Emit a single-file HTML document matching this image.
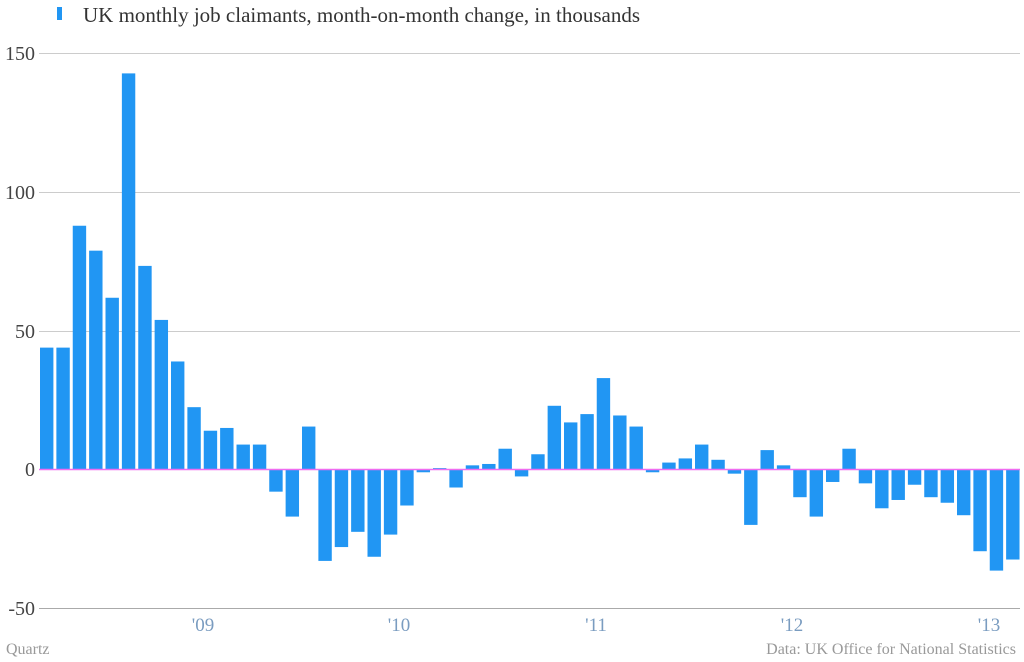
<!DOCTYPE html>
<html><head><style>body{margin:0;background:#fff}svg{display:block;font-family:"Liberation Serif",serif}</style></head>
<body>
<svg width="1024" height="662" viewBox="0 0 1024 662">
<rect x="57" y="7" width="5" height="13" fill="#2196f3"/>
<text x="83" y="22" font-size="21" fill="#333">UK monthly job claimants, month-on-month change, in thousands</text>
<g stroke="#cccccc" stroke-width="1">
<line x1="39" y1="53.5" x2="1020" y2="53.5"/>
<line x1="39" y1="192.5" x2="1020" y2="192.5"/>
<line x1="39" y1="331.5" x2="1020" y2="331.5"/>
<line x1="39" y1="608.5" x2="1020" y2="608.5" stroke="#aaa"/>
</g>
<g font-size="20" fill="#444" text-anchor="end">
<text x="35" y="60">150</text><text x="35" y="199">100</text><text x="35" y="338">50</text><text x="35" y="476">0</text><text x="35" y="615">-50</text>
</g>
<g font-size="19" fill="#7a9cc0" text-anchor="middle">
<text x="203" y="631">'09</text><text x="399" y="631">'10</text><text x="596" y="631">'11</text><text x="792" y="631">'12</text><text x="989" y="631">'13</text>
</g>
<text x="6" y="654" font-size="16" fill="#999">Quartz</text>
<text x="1016" y="654" font-size="16" fill="#999" text-anchor="end">Data: UK Office for National Statistics</text>
<g fill="#2196f3">
<rect x="40" y="347.62" width="13.4" height="121.88"/>
<rect x="56.375" y="347.62" width="13.4" height="121.88"/>
<rect x="72.75" y="225.74" width="13.4" height="243.76"/>
<rect x="89.125" y="250.67" width="13.4" height="218.83"/>
<rect x="105.5" y="297.76" width="13.4" height="171.74"/>
<rect x="121.875" y="73.39" width="13.4" height="396.11"/>
<rect x="138.25" y="265.9" width="13.4" height="203.6"/>
<rect x="154.625" y="319.92" width="13.4" height="149.58"/>
<rect x="171" y="361.47" width="13.4" height="108.03"/>
<rect x="187.375" y="407.17" width="13.4" height="62.33"/>
<rect x="203.75" y="430.72" width="13.4" height="38.78"/>
<rect x="220.125" y="427.95" width="13.4" height="41.55"/>
<rect x="236.5" y="444.57" width="13.4" height="24.93"/>
<rect x="252.875" y="444.57" width="13.4" height="24.93"/>
<rect x="269.25" y="469.5" width="13.4" height="22.16"/>
<rect x="285.625" y="469.5" width="13.4" height="47.09"/>
<rect x="302" y="426.56" width="13.4" height="42.94"/>
<rect x="318.375" y="469.5" width="13.4" height="91.41"/>
<rect x="334.75" y="469.5" width="13.4" height="77.56"/>
<rect x="351.125" y="469.5" width="13.4" height="62.33"/>
<rect x="367.5" y="469.5" width="13.4" height="87.26"/>
<rect x="383.875" y="469.5" width="13.4" height="65.1"/>
<rect x="400.25" y="469.5" width="13.4" height="36.01"/>
<rect x="416.625" y="469.5" width="13.4" height="2.77"/>
<rect x="433" y="468.11" width="13.4" height="1.39"/>
<rect x="449.375" y="469.5" width="13.4" height="18.01"/>
<rect x="465.75" y="465.34" width="13.4" height="4.16"/>
<rect x="482.125" y="463.96" width="13.4" height="5.54"/>
<rect x="498.5" y="448.72" width="13.4" height="20.78"/>
<rect x="514.875" y="469.5" width="13.4" height="6.93"/>
<rect x="531.25" y="454.26" width="13.4" height="15.24"/>
<rect x="547.625" y="405.79" width="13.4" height="63.71"/>
<rect x="564" y="422.41" width="13.4" height="47.09"/>
<rect x="580.375" y="414.1" width="13.4" height="55.4"/>
<rect x="596.75" y="378.09" width="13.4" height="91.41"/>
<rect x="613.125" y="415.48" width="13.4" height="54.02"/>
<rect x="629.5" y="426.56" width="13.4" height="42.94"/>
<rect x="645.875" y="469.5" width="13.4" height="2.77"/>
<rect x="662.25" y="462.57" width="13.4" height="6.93"/>
<rect x="678.625" y="458.42" width="13.4" height="11.08"/>
<rect x="695" y="444.57" width="13.4" height="24.93"/>
<rect x="711.375" y="459.8" width="13.4" height="9.7"/>
<rect x="727.75" y="469.5" width="13.4" height="4.16"/>
<rect x="744.125" y="469.5" width="13.4" height="55.4"/>
<rect x="760.5" y="450.11" width="13.4" height="19.39"/>
<rect x="776.875" y="465.34" width="13.4" height="4.16"/>
<rect x="793.25" y="469.5" width="13.4" height="27.7"/>
<rect x="809.625" y="469.5" width="13.4" height="47.09"/>
<rect x="826" y="469.5" width="13.4" height="12.47"/>
<rect x="842.375" y="448.72" width="13.4" height="20.78"/>
<rect x="858.75" y="469.5" width="13.4" height="13.85"/>
<rect x="875.125" y="469.5" width="13.4" height="38.78"/>
<rect x="891.5" y="469.5" width="13.4" height="30.47"/>
<rect x="907.875" y="469.5" width="13.4" height="15.24"/>
<rect x="924.25" y="469.5" width="13.4" height="27.7"/>
<rect x="940.625" y="469.5" width="13.4" height="33.24"/>
<rect x="957" y="469.5" width="13.4" height="45.71"/>
<rect x="973.375" y="469.5" width="13.4" height="81.72"/>
<rect x="989.75" y="469.5" width="13.4" height="101.11"/>
<rect x="1006.125" y="469.5" width="13.4" height="90.03"/>
</g>
<line x1="39" y1="469.5" x2="1020" y2="469.5" stroke="#f06cf0" stroke-width="1.5"/>
</svg>
</body></html>
